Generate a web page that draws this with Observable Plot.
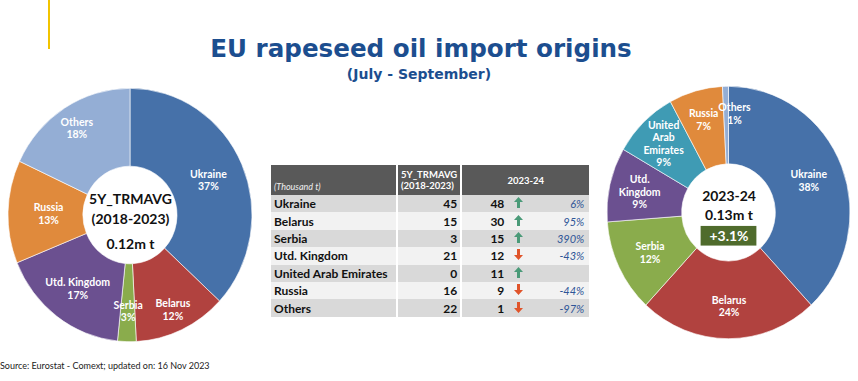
<!DOCTYPE html>
<html><head><meta charset="utf-8">
<script src="https://cdn.jsdelivr.net/npm/d3@7"></script>
<script src="https://cdn.jsdelivr.net/npm/@observablehq/plot@0.6"></script>
<style>
body{margin:0;background:#fff;}
#wrap{position:relative;width:858px;height:381px;overflow:hidden;font-family:Lato,"Open Sans",sans-serif;}
#bar{position:absolute;left:48px;top:0;width:2px;height:49px;background:#f2c400;}
#title{position:absolute;left:0;width:842px;top:34px;text-align:center;font-family:"DejaVu Sans",Verdana,sans-serif;font-weight:bold;font-size:24.6px;color:#1c4e8f;}
#subtitle{position:absolute;left:0;width:838px;top:66px;text-align:center;font-family:"DejaVu Sans",Verdana,sans-serif;font-weight:bold;font-size:14px;color:#1c4e8f;}
#left{position:absolute;left:0;top:80px;}
#right{position:absolute;left:599px;top:78px;}
#left svg,#right svg{overflow:visible;}
#table{position:absolute;left:271px;top:165px;}
table{border-collapse:collapse;font-family:Lato,sans-serif;}
td,th{padding:0 3px;height:17.4px;line-height:17px;border-left:2px solid #fff;white-space:nowrap;}
td:first-child,th:first-child{border-left:none;}
th{background:#595959;color:#fff;font-size:9.5px;font-weight:bold;height:27px;line-height:11px;}
td{font-size:12px;font-weight:bold;color:#111;}
tr.a td{background:#d9d9d9;}
tr.b td{background:#f2f2f2;}
td.n{text-align:right;}
td.p{text-align:right;font-style:italic;font-weight:normal;color:#2f5597;font-size:11px;padding-right:5px;}
td.ar{text-align:center;padding:0;}
#source{position:absolute;left:0;top:360px;font-family:Lato,sans-serif;font-size:9px;color:#222;}
</style></head><body>
<div id="wrap">
 <div id="bar"></div>
 <div id="title">EU rapeseed oil import origins</div>
 <div id="subtitle">(July - September)</div>
 <div id="left"></div>
 <div id="right"></div>
 <div id="table"></div>
 <div id="source">Source: Eurostat - Comext; updated on: 16 Nov 2023</div>
</div>
<script>
// ---- data ----
const countries = ["Ukraine","Belarus","Serbia","Utd. Kingdom","United Arab Emirates","Russia","Others"];
const avg5y = [45, 15, 3, 21, 0, 16, 22];          // thousand t, 5Y_TRMAVG (2018-2023)
const y2023 = [48, 30, 15, 12, 11, 9, 1];           // thousand t, 2023-24
const avgShare = [37, 12, 3, 17, 0, 13, 18];        // % shown on left donut
const y2023Share = [38, 24, 12, 9, 9, 7, 1];        // % shown on right donut
const changeLabels = ["6%","95%","390%","-43%","","-44%","-97%"];
const trend = ["up","up","up","down","up","down","down"];
const colors = ["#4671a9","#b1423f","#8aac4c","#6b5090","#3f9bb4","#e08a3c","#94aed5"];
const leftNames = ["Ukraine","Belarus","Serbia","Utd. Kingdom","United Arab Emirates","Russia","Others"];
const rightNames = ["Ukraine","Belarus","Serbia","Utd.\nKingdom","United\nArab\nEmirates","Russia","Others"];
const leftCenter = ["5Y_TRMAVG","(2018-2023)","0.12m t"];
const rightCenter = ["2023-24","0.13m t"];
const rightChange = "+3.1%";

const colorScale = Plot.scale({color: {domain: countries, range: colors}});

function donutMarks(values, shares, names, labelR, offsets) {
  const data = countries.map((c, i) => ({country: c, value: values[i], share: shares[i], name: names[i]})).filter(d => d.value > 0);
  const arcs = d3.pie().sort(null).value(d => d.value)(data);
  const labels = arcs.map((a, i) => {
    const mid = (a.startAngle + a.endAngle) / 2;
    const r = labelR[i];
    const off = offsets[a.data.country] || [0, 0];
    return {x: r * Math.sin(mid) + off[0], y: r * Math.cos(mid) + off[1], text: a.data.name + "\n" + a.data.share + "%"};
  });
  const RX = 122, INNER = 47;
  return [
    (index, scales) => {
      const g = d3.create("svg:g");
      const cx = scales.x(0), cy = scales.y(0);
      const kx = scales.x(1) - scales.x(0), ky = scales.y(0) - scales.y(1);
      const arc = d3.arc().innerRadius(INNER).outerRadius(RX);
      g.append("g").attr("transform", `translate(${cx},${cy}) scale(${kx},${ky})`)
        .selectAll("path").data(arcs).join("path")
        .attr("d", arc)
        .attr("fill", d => colorScale.apply(d.data.country))
        .attr("stroke", "#fff").attr("stroke-width", 0.6);
      return g.node();
    },
    Plot.text(labels, {x: "x", y: "y", text: "text", fill: "white", fontSize: 10.5, fontWeight: "bold", lineHeight: 1.2, fontFamily: "Lato"})
  ];
}

function makePlot(marks) {
  return Plot.plot({
    width: 260, height: 270, margin: 0,
    x: {domain: [-130, 130], axis: null},
    y: {domain: [-130, 130], axis: null},
    style: {background: "transparent", overflow: "visible"},
    marks
  });
}

const centerText = {fontSize: 14, fontWeight: "bold", fill: "#111", fontFamily: "Lato"};

// left donut
const leftPlot = makePlot([
  ...donutMarks(avg5y, avgShare, leftNames, [85, 100, 92, 88, 82, 100], {}),
  Plot.text([leftCenter[0]], {x: 0, y: 15, text: d => d, ...centerText}),
  Plot.text([leftCenter[1]], {x: 0, y: -4, text: d => d, ...centerText}),
  Plot.text([leftCenter[2]], {x: 0, y: -28, text: d => d, ...centerText})
]);
document.getElementById("left").append(leftPlot);

// right donut
const rightPlot = makePlot([
  ...donutMarks(y2023, y2023Share, rightNames, [86, 90, 88, 92, 94, 94, 100], {"Others": [8, -4]}),
  Plot.rect([rightChange], {x1: -28, x2: 28, y1: -32, y2: -13, fill: "#4f6b2c"}),
  Plot.text([rightCenter[0]], {x: 0, y: 16, text: d => d, ...centerText}),
  Plot.text([rightCenter[1]], {x: 0, y: -2, text: d => d, ...centerText}),
  Plot.text([rightChange], {x: 0, y: -22.5, text: d => d, ...centerText, fill: "#fff"})
]);
document.getElementById("right").append(rightPlot);

// table
const up = '<svg width="9" height="11" viewBox="0 0 9 11"><path d="M4.5 0 L9 5 L6 5 L6 11 L3 11 L3 5 L0 5 Z" fill="#4a9a78"/></svg>';
const down = '<svg width="9" height="11" viewBox="0 0 9 11"><path d="M4.5 11 L9 6 L6 6 L6 0 L3 0 L3 6 L0 6 Z" fill="#e0542a"/></svg>';
let html = '<table><tr><th style="width:119px;text-align:left;vertical-align:bottom;padding-bottom:3px;font-style:italic;font-weight:normal;color:#eee;font-size:9px">(Thousand t)</th>' +
  '<th style="width:56px;text-align:left;">5Y_TRMAVG<br>(2018-2023)</th>' +
  '<th colspan="3" style="width:121px;text-align:center;">2023-24</th></tr>';
countries.forEach((c, i) => {
  html += `<tr class="${i % 2 ? 'b' : 'a'}"><td>${c}</td><td class="n">${avg5y[i]}</td>` +
    `<td class="n" style="width:38px;border-right:none">${y2023[i]}</td>` +
    `<td class="ar" style="border-left:none;width:22px">${trend[i] === 'up' ? up : down}</td>` +
    `<td class="p" style="border-left:none;width:50px">${changeLabels[i]}</td></tr>`;
});
html += '</table>';
document.getElementById("table").innerHTML = html;
</script>
</body></html>
